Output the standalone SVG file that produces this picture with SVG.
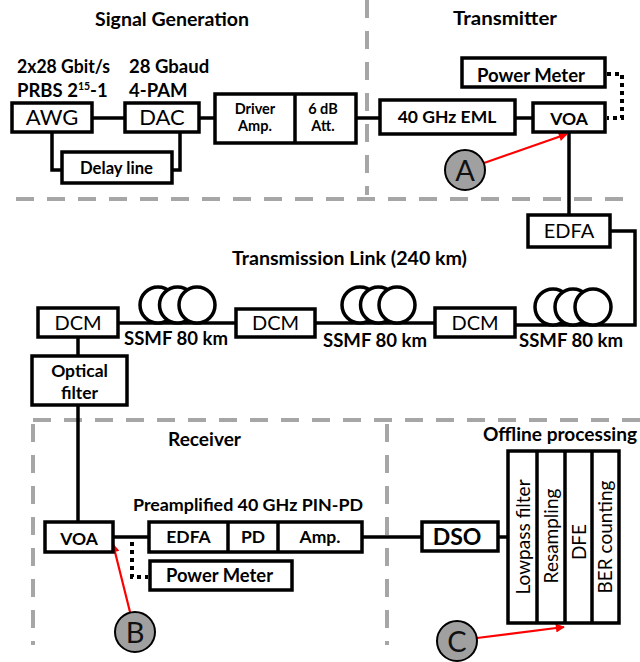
<svg xmlns="http://www.w3.org/2000/svg" width="640" height="662" viewBox="0 0 640 662">
<style>
.box{fill:#fff;stroke:#000;stroke-width:3.5}
.ln{fill:none;stroke:#000;stroke-width:3.5}
.dot{fill:none;stroke:#000;stroke-width:4;stroke-dasharray:4 4}
.dash{fill:none;stroke:#a6a6a6;stroke-width:4;stroke-dasharray:18 13}
.red{fill:none;stroke:#ff0000;stroke-width:2.2;marker-end:url(#ah)}
.mk{fill:#a0a0a0;stroke:#000;stroke-width:2}
.coil{fill:#fff;stroke:#000;stroke-width:3.5}
text{font-family:Lato,"Liberation Sans",sans-serif;fill:#000;text-anchor:middle}
.h{font-size:19.5px;font-weight:bold}
.b14{font-size:14.5px;font-weight:bold}
.b16{font-size:16.5px;font-weight:bold}
.b17{font-size:17.5px;font-weight:bold}
.b18{font-size:18.5px;font-weight:bold}
.r22{font-size:22px}
.r20{font-size:20px}
.rot{font-size:19px}
.let{font-size:29px;fill:#111}
</style>
<defs>
<marker id="ah" viewBox="0 0 10 10" refX="9" refY="5" markerWidth="11" markerHeight="9" markerUnits="userSpaceOnUse" orient="auto"><path d="M0,0 L10,5 L0,10 z" fill="#ff0000"/></marker>
</defs>
<rect width="640" height="662" fill="#fff"/>

<g id="section-borders">
<line class="dash" x1="367" y1="0" x2="367" y2="195"/>
<line class="dash" x1="16" y1="199" x2="630" y2="199"/>
<line class="dash" x1="33" y1="420" x2="640" y2="420"/>
<line class="dash" x1="33" y1="424" x2="33" y2="645"/>
<line class="dash" x1="387" y1="424" x2="387" y2="645"/>
</g>

<g id="titles">
<text class="h" x="172" y="26" textLength="154" lengthAdjust="spacingAndGlyphs">Signal Generation</text>
<text class="h" x="505" y="25" textLength="104" lengthAdjust="spacingAndGlyphs">Transmitter</text>
<text class="h" x="349.5" y="265" textLength="235" lengthAdjust="spacingAndGlyphs">Transmission Link (240 km)</text>
<text class="h" x="204.5" y="446" textLength="73" lengthAdjust="spacingAndGlyphs">Receiver</text>
<text class="h" x="560" y="441" textLength="154" lengthAdjust="spacingAndGlyphs">Offline processing</text>
<text class="b18" x="17" y="73" style="text-anchor:start" textLength="93" lengthAdjust="spacingAndGlyphs">2x28 Gbit/s</text>
<text class="b18" x="17" y="97" style="text-anchor:start">PRBS 2<tspan font-size="10.5" dy="-7">15</tspan><tspan dy="7">-1</tspan></text>
<text class="b18" x="129" y="73" style="text-anchor:start">28 Gbaud</text>
<text class="b18" x="129" y="97" style="text-anchor:start">4-PAM</text>
<text class="b17" x="248" y="511" textLength="230" lengthAdjust="spacingAndGlyphs">Preamplified 40 GHz PIN-PD</text>
</g>

<g id="connectors">
<polyline class="ln" points="92,118 125,118"/>
<polyline class="ln" points="199,118 215,118"/>
<polyline class="ln" points="52,132 52,170 62,170"/>
<polyline class="ln" points="180,132 180,170 172,170"/>
<polyline class="ln" points="356,118 380,118"/>
<polyline class="ln" points="515,118 533,118"/>
<polyline class="ln" points="569,132 569,215"/>
<polyline class="ln" points="610,231 635,231 635,325 515,325"/>
<polyline class="ln" points="435,323 315,323"/>
<polyline class="ln" points="236,323 118,323"/>
<polyline class="ln" points="78,337 78,356"/>
<polyline class="ln" points="78,405 78,522"/>
<polyline class="ln" points="113,537 149,537"/>
<polyline class="ln" points="362,537 422,537"/>
<polyline class="ln" points="498,537 508,537"/>
<polyline class="dot" points="607,74 622,74 622,118 607,118"/>
<polyline class="dot" points="132,542 132,577 148,577"/>
<line class="red" x1="484" y1="163" x2="567" y2="134"/>
<line class="red" x1="130" y1="612" x2="113" y2="544"/>
<line class="red" x1="477" y1="638" x2="564" y2="627"/>
</g>

<g id="awg"><rect class="box" x="12" y="103" width="80" height="29"/><text class="r22" x="52" y="125">AWG</text></g>
<g id="dac"><rect class="box" x="125" y="103" width="74" height="29"/><text class="r22" x="162" y="125">DAC</text></g>
<g id="delay-line"><rect class="box" x="62" y="152" width="110" height="31"/><text class="b16" x="116.5" y="174" textLength="73" lengthAdjust="spacingAndGlyphs">Delay line</text></g>
<g id="driver-att"><rect class="box" x="215" y="94" width="141" height="49"/><line class="ln" x1="295" y1="94" x2="295" y2="143"/>
<text class="b14" x="255" y="113.5">Driver</text><text class="b14" x="255" y="130.5">Amp.</text>
<text class="b14" x="323" y="113.5">6 dB</text><text class="b14" x="323" y="130.5">Att.</text></g>
<g id="eml"><rect class="box" x="380" y="100" width="135" height="34"/><text class="b17" x="447" y="123">40 GHz EML</text></g>
<g id="voa-tx"><rect class="box" x="533" y="103" width="72" height="29"/><text class="b17" x="569" y="125">VOA</text></g>
<g id="power-meter-tx"><rect class="box" x="462" y="58" width="143" height="29"/><text class="b18" x="531" y="82" textLength="108" lengthAdjust="spacingAndGlyphs">Power Meter</text></g>
<g id="marker-a"><circle class="mk" cx="465" cy="170" r="20"/><text class="let" x="465" y="181">A</text></g>
<g id="edfa-link"><rect class="box" x="528" y="215" width="82" height="32"/><text class="r20" x="569" y="238">EDFA</text></g>

<g id="ssmf-3"><circle class="coil" cx="553" cy="307" r="18"/><circle class="coil" cx="573" cy="307" r="18"/><circle class="coil" cx="593" cy="307" r="18"/><text class="b18" x="571" y="347" textLength="104" lengthAdjust="spacingAndGlyphs">SSMF 80 km</text></g>
<g id="dcm-3"><rect class="box" x="435" y="308" width="80" height="29"/><text class="r20" x="475" y="330">DCM</text></g>
<g id="ssmf-2"><circle class="coil" cx="360" cy="305" r="18"/><circle class="coil" cx="378.5" cy="305" r="18"/><circle class="coil" cx="397" cy="305" r="18"/><text class="b18" x="375" y="347" textLength="104" lengthAdjust="spacingAndGlyphs">SSMF 80 km</text></g>
<g id="dcm-2"><rect class="box" x="236" y="309" width="79" height="28"/><text class="r20" x="275.5" y="330">DCM</text></g>
<g id="ssmf-1"><circle class="coil" cx="158" cy="305" r="18"/><circle class="coil" cx="177.5" cy="305" r="18"/><circle class="coil" cx="197" cy="305" r="18"/><text class="b18" x="176" y="345" textLength="104" lengthAdjust="spacingAndGlyphs">SSMF 80 km</text></g>
<g id="dcm-1"><rect class="box" x="38" y="308" width="80" height="29"/><text class="r20" x="78" y="330">DCM</text></g>
<g id="optical-filter"><rect class="box" x="32" y="356" width="95" height="49"/><text class="b17" x="79.5" y="377">Optical</text><text class="b17" x="79.5" y="399">filter</text></g>

<g id="voa-rx"><rect class="box" x="45" y="522" width="68" height="30"/><text class="b17" x="79" y="545">VOA</text></g>
<g id="preamp-rx"><rect class="box" x="149" y="522" width="213" height="30"/><line class="ln" x1="228" y1="522" x2="228" y2="552"/><line class="ln" x1="278" y1="522" x2="278" y2="552"/>
<text class="b17" x="188.5" y="543">EDFA</text><text class="b17" x="253" y="543">PD</text><text class="b17" x="320" y="543">Amp.</text></g>
<g id="power-meter-rx"><rect class="box" x="150" y="561" width="142" height="29"/><text class="b18" x="219.5" y="582" textLength="107" lengthAdjust="spacingAndGlyphs">Power Meter</text></g>
<g id="marker-b"><circle class="mk" cx="135" cy="632" r="20"/><text class="let" x="135" y="643">B</text></g>
<g id="dso"><rect class="box" x="422" y="522" width="76" height="29"/><text x="457" y="545" style="font-size:23px;font-weight:bold">DSO</text></g>
<g id="offline-processing"><rect class="box" x="508" y="451" width="111" height="172"/>
<line class="ln" x1="537" y1="451" x2="537" y2="623"/><line class="ln" x1="565" y1="451" x2="565" y2="623"/><line class="ln" x1="592" y1="451" x2="592" y2="623"/>
<text class="rot" transform="translate(529.5,537) rotate(-90)">Lowpass filter</text>
<text class="rot" transform="translate(558,536) rotate(-90)">Resampling</text>
<text class="rot" transform="translate(585.5,542) rotate(-90)">DFE</text>
<text class="rot" transform="translate(612,537) rotate(-90)">BER counting</text></g>
<g id="marker-c"><circle class="mk" cx="457" cy="641" r="20"/><text class="let" x="457" y="652">C</text></g>
</svg>
